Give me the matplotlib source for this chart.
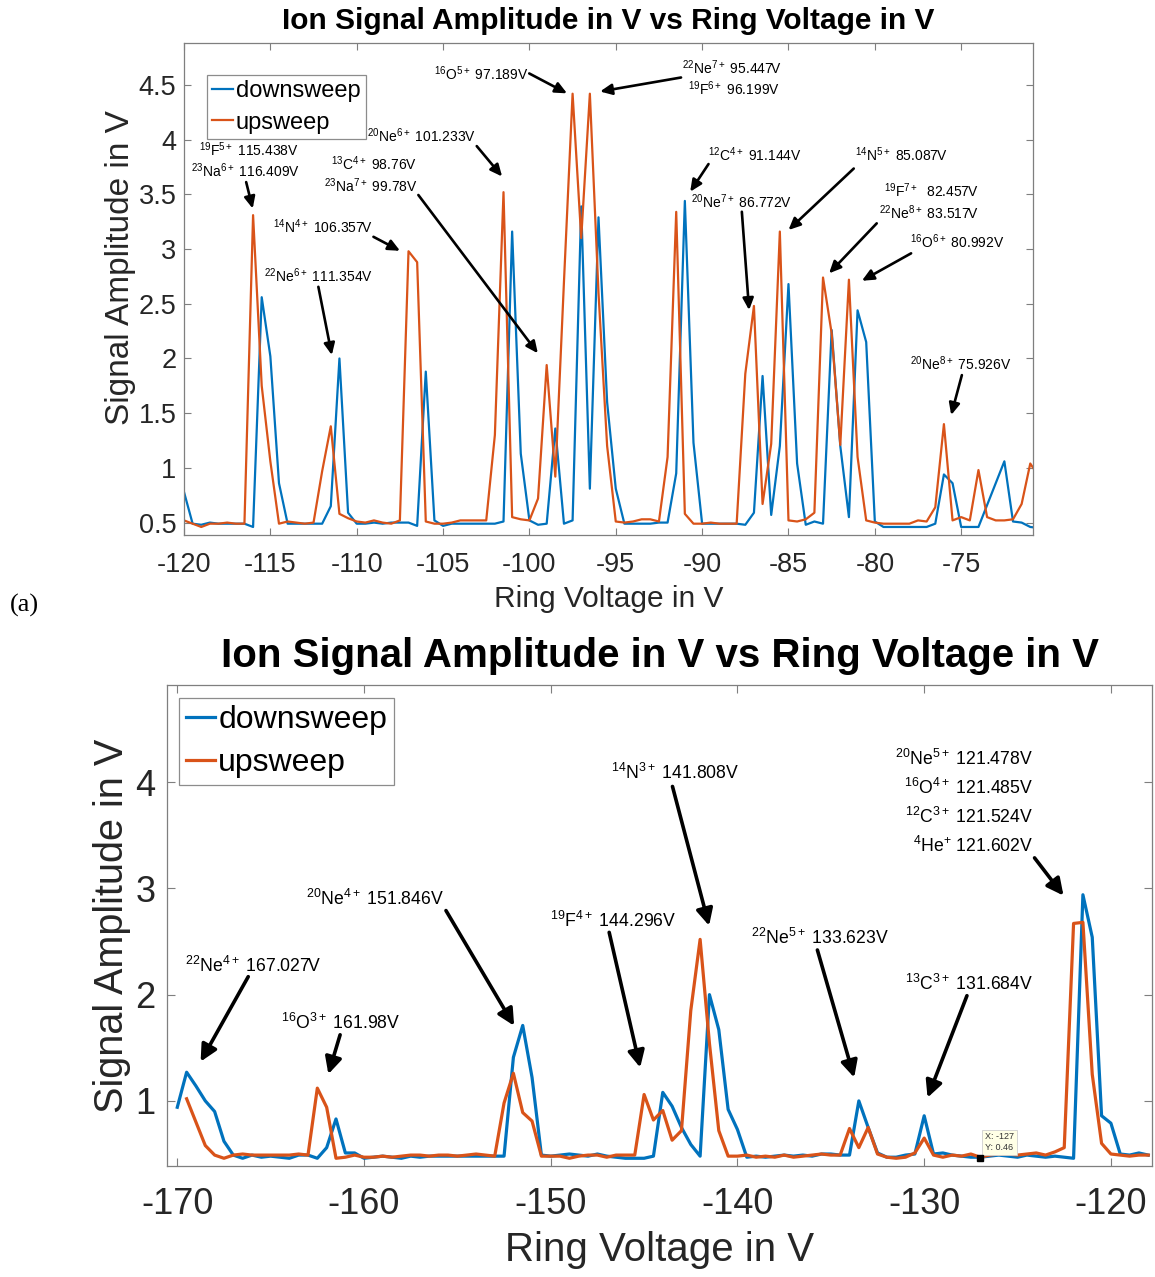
import numpy as np
import matplotlib
matplotlib.use("Agg")
import matplotlib.pyplot as plt
from matplotlib.ticker import FixedLocator, FuncFormatter

plt.rcParams['font.family'] = 'Liberation Sans'
plt.rcParams['mathtext.fontset'] = 'custom'
plt.rcParams['mathtext.rm'] = 'Liberation Sans'
plt.rcParams['mathtext.it'] = 'Liberation Sans:italic'
plt.rcParams['mathtext.bf'] = 'Liberation Sans:bold'
plt.rcParams['axes.unicode_minus'] = False

BLUE = '#0072BD'
ORANGE = '#D95319'
GRAY = '#7f7f7f'

# ---------------- panel (a): ring voltage -120 V .. -70.5 V, 0.5 V steps
volt_a = np.arange(-120.0, -70.25, 0.5)
down_a = [
    0.78, 0.49, 0.48, 0.50, 0.49, 0.49, 0.49, 0.49, 0.46, 2.56,
    2.02, 0.86, 0.49, 0.49, 0.49, 0.49, 0.49, 0.65, 2.00, 0.59,
    0.49, 0.49, 0.50, 0.49, 0.50, 0.50, 0.50, 0.47, 1.88, 0.52,
    0.47, 0.49, 0.49, 0.49, 0.49, 0.49, 0.49, 0.51, 3.16, 1.13,
    0.52, 0.48, 0.49, 1.36, 0.49, 0.52, 3.39, 0.81, 3.29, 1.60,
    0.81, 0.49, 0.49, 0.49, 0.49, 0.50, 0.50, 0.95, 3.44, 1.23,
    0.49, 0.49, 0.49, 0.49, 0.49, 0.48, 0.59, 1.84, 0.57, 1.20,
    2.68, 1.04, 0.48, 0.51, 0.49, 2.26, 1.20, 0.55, 2.44, 2.15,
    0.51, 0.46, 0.46, 0.46, 0.46, 0.46, 0.46, 0.49, 0.94, 0.86,
    0.46, 0.46, 0.46, 0.66, 0.86, 1.06, 0.51, 0.50, 0.46, 0.45,
]
up_a = [
    0.52, 0.49, 0.46, 0.49, 0.49, 0.50, 0.49, 0.49, 3.31, 1.75,
    1.06, 0.49, 0.51, 0.50, 0.49, 0.50, 0.97, 1.38, 0.58, 0.54,
    0.51, 0.50, 0.52, 0.50, 0.49, 0.52, 2.98, 2.88, 0.51, 0.49,
    0.49, 0.50, 0.52, 0.52, 0.52, 0.52, 1.30, 3.52, 0.55, 0.53,
    0.52, 0.72, 1.94, 0.92, 2.70, 4.42, 3.10, 4.42, 2.60, 1.20,
    0.51, 0.50, 0.51, 0.53, 0.53, 0.51, 1.10, 3.34, 0.58, 0.49,
    0.49, 0.50, 0.49, 0.49, 0.49, 1.86, 2.48, 0.67, 1.22, 3.16,
    0.52, 0.51, 0.53, 0.59, 2.74, 2.23, 1.21, 2.72, 1.10, 0.52,
    0.50, 0.49, 0.49, 0.49, 0.49, 0.52, 0.51, 0.64, 1.40, 0.52,
    0.55, 0.52, 0.98, 0.55, 0.52, 0.52, 0.53, 0.67, 1.04, 0.92,
]

# ---------------- panel (b): ring voltage -170 V .. -118 V, 0.5 V steps
volt_b = np.arange(-170.0, -117.9, 0.5)
down_b = [
    0.94, 1.27, 1.14, 1.00, 0.90, 0.62, 0.49, 0.46, 0.49, 0.47,
    0.48, 0.47, 0.46, 0.49, 0.49, 0.46, 0.56, 0.83, 0.51, 0.51,
    0.46, 0.47, 0.48, 0.47, 0.46, 0.48, 0.47, 0.48, 0.48, 0.48,
    0.48, 0.48, 0.48, 0.48, 0.48, 0.48, 1.41, 1.71, 1.22, 0.49,
    0.48, 0.49, 0.50, 0.49, 0.48, 0.50, 0.48, 0.47, 0.46, 0.46,
    0.46, 0.48, 1.08, 0.95, 0.75, 0.59, 0.48, 2.00, 1.67, 0.92,
    0.73, 0.47, 0.48, 0.47, 0.48, 0.49, 0.48, 0.49, 0.48, 0.50,
    0.50, 0.49, 0.49, 1.00, 0.75, 0.51, 0.47, 0.47, 0.49, 0.50,
    0.86, 0.50, 0.51, 0.49, 0.48, 0.47, 0.47, 0.48, 0.49, 0.48,
    0.47, 0.49, 0.48, 0.47, 0.48, 0.47, 0.46, 2.94, 2.54, 0.86,
    0.79, 0.50, 0.49, 0.51, 0.49,
]
# upsweep starts one step later (-169.5 V)
up_b = [
    1.02, 0.80, 0.58, 0.49, 0.46, 0.49, 0.50, 0.49, 0.49,
    0.49, 0.49, 0.49, 0.50, 0.49, 1.12, 0.94, 0.46, 0.47, 0.49,
    0.47, 0.47, 0.48, 0.47, 0.48, 0.49, 0.49, 0.48, 0.49, 0.49,
    0.48, 0.49, 0.50, 0.49, 0.48, 0.98, 1.26, 0.89, 0.81, 0.48,
    0.48, 0.48, 0.46, 0.48, 0.49, 0.49, 0.47, 0.49, 0.49, 0.49,
    1.06, 0.82, 0.91, 0.63, 0.72, 1.85, 2.52, 1.54, 0.72, 0.48,
    0.48, 0.49, 0.47, 0.48, 0.47, 0.49, 0.47, 0.48, 0.49, 0.50,
    0.49, 0.49, 0.74, 0.56, 0.75, 0.50, 0.47, 0.46, 0.47, 0.51,
    0.65, 0.49, 0.47, 0.49, 0.48, 0.50, 0.47, 0.49, 0.50, 0.50,
    0.49, 0.50, 0.51, 0.49, 0.52, 0.56, 2.67, 2.68, 1.25, 0.60,
    0.50, 0.49, 0.48, 0.49, 0.49,
]

# annotations: (text, right end x, baseline y)
labels_a = [
    (r'$^{16}$O$^{5+}$ 97.189V', -100.08, 4.545),
    (r'$^{22}$Ne$^{7+}$ 95.447V', -85.37, 4.604),
    (r'$^{19}$F$^{6+}$ 96.199V', -85.48, 4.408),
    (r'$^{20}$Ne$^{6+}$ 101.233V', -103.09, 3.981),
    (r'$^{19}$F$^{5+}$ 115.438V', -113.32, 3.850),
    (r'$^{23}$Na$^{6+}$ 116.409V', -113.28, 3.655),
    (r'$^{13}$C$^{4+}$ 98.76V', -106.49, 3.722),
    (r'$^{23}$Na$^{7+}$ 99.78V', -106.49, 3.524),
    (r'$^{14}$N$^{4+}$ 106.357V', -109.07, 3.149),
    (r'$^{22}$Ne$^{6+}$ 111.354V', -109.07, 2.701),
    (r'$^{12}$C$^{4+}$ 91.144V', -84.23, 3.807),
    (r'$^{20}$Ne$^{7+}$ 86.772V', -84.77, 3.372),
    (r'$^{14}$N$^{5+}$ 85.087V', -75.81, 3.804),
    (r'$^{19}$F$^{7+}$  82.457V', -74.02, 3.475),
    (r'$^{22}$Ne$^{8+}$ 83.517V', -74.00, 3.271),
    (r'$^{16}$O$^{6+}$ 80.992V', -72.50, 3.006),
    (r'$^{20}$Ne$^{8+}$ 75.926V', -72.07, 1.894),
]
arrows_a = [
    ((-100.01, 4.605), (-97.82, 4.423)),
    ((-91.22, 4.568), (-95.91, 4.440)),
    ((-103.05, 3.941), (-101.58, 3.663)),
    ((-116.40, 3.612), (-116.02, 3.370)),
    ((-106.43, 3.494), (-99.51, 2.047)),
    ((-109.03, 3.112), (-107.49, 2.984)),
    ((-112.22, 2.655), (-111.44, 2.031)),
    ((-89.63, 3.777), (-90.69, 3.524)),
    ((-87.70, 3.341), (-87.28, 2.442)),
    ((-81.22, 3.736), (-85.00, 3.174)),
    ((-79.89, 3.235), (-82.65, 2.778)),
    ((-77.90, 2.961), (-80.75, 2.710)),
    ((-74.96, 1.848), (-75.58, 1.483)),
]
labels_b = [
    (r'$^{22}$Ne$^{4+}$ 167.027V', -162.32, 2.216),
    (r'$^{16}$O$^{3+}$ 161.98V', -158.03, 1.676),
    (r'$^{20}$Ne$^{4+}$ 151.846V', -155.70, 2.844),
    (r'$^{19}$F$^{4+}$ 144.296V', -143.29, 2.633),
    (r'$^{14}$N$^{3+}$ 141.808V', -139.90, 4.025),
    (r'$^{22}$Ne$^{5+}$ 133.623V', -131.86, 2.477),
    (r'$^{13}$C$^{3+}$ 131.684V', -124.15, 2.043),
    (r'$^{20}$Ne$^{5+}$ 121.478V', -124.18, 4.157),
    (r'$^{16}$O$^{4+}$ 121.485V', -124.18, 3.891),
    (r'$^{12}$C$^{3+}$ 121.524V', -124.18, 3.614),
    (r'$^{4}$He$^{+}$ 121.602V', -124.18, 3.340),
]
arrows_b = [
    ((-166.20, 2.169), (-168.75, 1.370)),
    ((-161.28, 1.622), (-161.91, 1.252)),
    ((-155.61, 2.791), (-151.96, 1.707)),
    ((-146.87, 2.586), (-145.21, 1.314)),
    ((-143.48, 3.959), (-141.52, 2.649)),
    ((-135.72, 2.420), (-133.75, 1.220)),
    ((-127.71, 1.990), (-129.82, 1.031)),
    ((-124.09, 3.287), (-122.54, 2.932)),
]
datatip = (-127, 0.46)

xticks_a = [-120, -115, -110, -105, -100, -95, -90, -85, -80, -75]
yticks_a = [0.5, 1, 1.5, 2, 2.5, 3, 3.5, 4, 4.5]
xticks_b = [-170, -160, -150, -140, -130, -120]
yticks_b = [1, 2, 3, 4]

TITLE = "Ion Signal Amplitude in V vs Ring Voltage in V"


def style_axes(ax, tick_size, xpad, ypad, tick_len):
    for s in ax.spines.values():
        s.set_color(GRAY)
        s.set_linewidth(0.9)
    ax.tick_params(direction='in', top=True, right=True, length=tick_len,
                   width=0.8, color=GRAY, labelsize=tick_size, labelcolor='#262626')
    ax.tick_params(axis='x', pad=xpad)
    ax.tick_params(axis='y', pad=ypad)
    ax.yaxis.set_major_formatter(FuncFormatter(lambda v, p: f'{v:g}'))
    ax.xaxis.set_major_formatter(FuncFormatter(lambda v, p: f'{v:g}'))


fig = plt.figure(figsize=(11.55, 12.77), dpi=100)

# ---------- top panel
ax1 = fig.add_axes([0.1593, 0.5810, 0.7351, 0.3853])
ax1.plot(volt_a, down_a, color=BLUE, lw=1.6, label='downsweep')
ax1.plot(volt_a, up_a, color=ORANGE, lw=1.6, label='upsweep')
ax1.set_xlim(-120, -70.84)
ax1.set_ylim(0.386, 4.883)
ax1.xaxis.set_major_locator(FixedLocator(xticks_a))
ax1.yaxis.set_major_locator(FixedLocator(yticks_a))
style_axes(ax1, 19.5, 12, 5.5, 5)
ax1.text(0.5, 1.045, TITLE, transform=ax1.transAxes, ha='center', va='center',
         fontsize=21.5, fontweight='bold')
leg1 = ax1.legend(loc='upper left', bbox_to_anchor=(0.0271, 0.935), borderaxespad=0,
                  fontsize=17, handlelength=0.9, handletextpad=0.1, labelspacing=0.4,
                  borderpad=0.22, fancybox=False, framealpha=1, edgecolor='#8c8c8c')
leg1.get_frame().set_linewidth(0.9)

for txt, x, y in labels_a:
    ax1.text(x, y, txt, ha='right', va='baseline', fontsize=10)
for start, end in arrows_a:
    ax1.annotate('', xy=end, xytext=start,
                 arrowprops=dict(arrowstyle='-|>,head_length=0.5,head_width=0.23',
                                 mutation_scale=14, lw=1.9, color='k',
                                 shrinkA=0, shrinkB=0))

fig.text(0.5268, 0.5309, 'Ring Voltage in V', ha='center', va='center', fontsize=21.5,
         color='#262626')
fig.text(0.1039, 0.7901, 'Signal Amplitude in V', ha='center', va='center', fontsize=24,
         rotation=90, color='#262626')
fig.text(0.0208, 0.5262, '(a)', ha='center', va='center', fontsize=19,
         family='Liberation Serif')

# ---------- bottom panel
ax2 = fig.add_axes([0.1446, 0.0869, 0.8528, 0.3767])
ax2.plot(volt_b, down_b, color=BLUE, lw=2.3, label='downsweep')
ax2.plot(volt_b[1:], up_b, color=ORANGE, lw=2.3, label='upsweep')
ax2.set_xlim(-170.55, -117.80)
ax2.set_ylim(0.387, 4.914)
ax2.xaxis.set_major_locator(FixedLocator(xticks_b))
ax2.yaxis.set_major_locator(FixedLocator(yticks_b))
style_axes(ax2, 26, 15, 8.5, 6)
ax2.text(0.5, 1.061, TITLE, transform=ax2.transAxes, ha='center', va='center',
         fontsize=29, fontweight='bold')
leg2 = ax2.legend(loc='upper left', bbox_to_anchor=(0.0125, 0.9736), borderaxespad=0,
                  fontsize=23, handlelength=0.9, handletextpad=0.1, labelspacing=0.42,
                  borderpad=0.22, fancybox=False, framealpha=1, edgecolor='#8c8c8c')
leg2.get_frame().set_linewidth(0.9)

for txt, x, y in labels_b:
    ax2.text(x, y, txt, ha='right', va='baseline', fontsize=12.7)
for start, end in arrows_b:
    ax2.annotate('', xy=end, xytext=start,
                 arrowprops=dict(arrowstyle='-|>,head_length=0.5,head_width=0.25',
                                 mutation_scale=20, lw=2.6, color='k',
                                 shrinkA=0, shrinkB=0))

# data tip
ax2.plot(*datatip, 's', color='k', ms=5, zorder=5)
ax2.text(datatip[0] + 0.25, datatip[1] + 0.055, f'X: {datatip[0]}\nY: {datatip[1]}',
         ha='left', va='bottom', fontsize=6.5, color='#333333', linespacing=1.3,
         bbox=dict(boxstyle='square,pad=0.3', fc='#FFFFE6', ec='#CFCFCF', lw=0.6))

fig.text(0.5714, 0.0211, 'Ring Voltage in V', ha='center', va='center', fontsize=29,
         color='#262626')
fig.text(0.0970, 0.2749, 'Signal Amplitude in V', ha='center', va='center', fontsize=28.5,
         rotation=90, color='#262626')

fig.savefig('out.png', dpi=100)
